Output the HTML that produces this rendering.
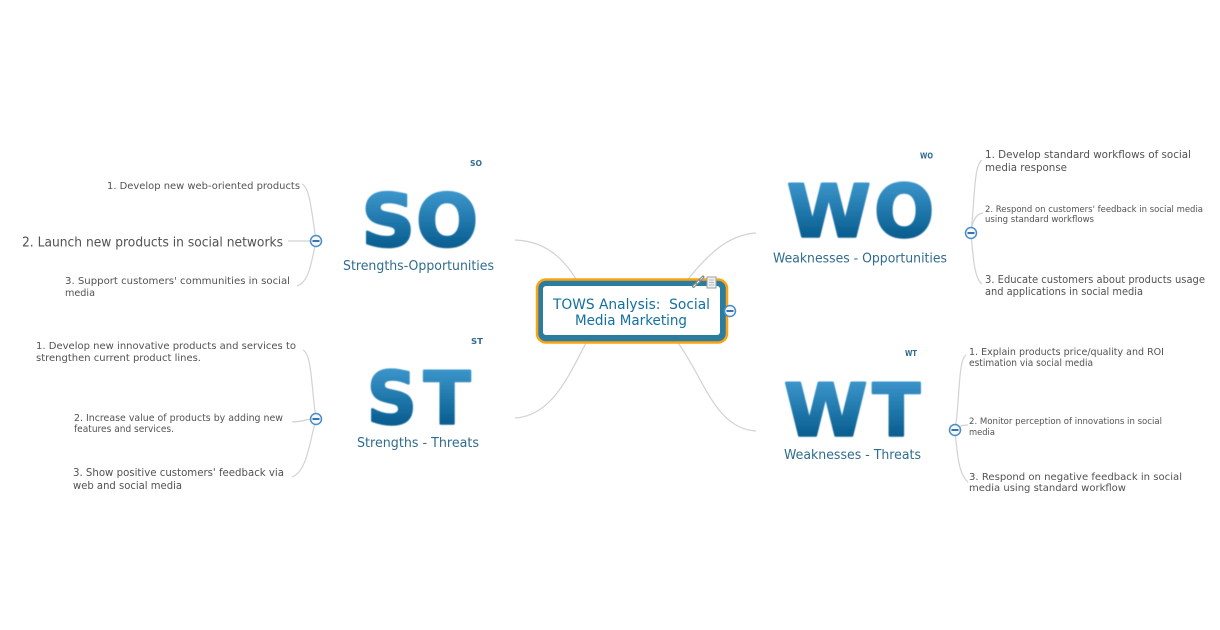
<!DOCTYPE html>
<html><head><meta charset="utf-8"><style>
html,body{margin:0;padding:0;background:#fff;width:1220px;height:630px;overflow:hidden}
svg{display:block}
text{font-family:"DejaVu Sans","Liberation Sans",sans-serif}
.t{fill:#525252}
.c{fill:none;stroke:#d2d2d2;stroke-width:1.2}
.l{fill:#2f6c8f;font-size:13px}
.s{fill:#2f6c8f;font-size:8px;font-weight:bold}
.b{font-weight:bold;font-size:72px;fill:url(#g);stroke:url(#g);stroke-width:2.500;stroke-linejoin:round}
</style></head><body>
<svg width="1220" height="630" viewBox="0 0 1220 630" xmlns="http://www.w3.org/2000/svg">
<defs>
<linearGradient id="g" x1="0" y1="0" x2="0" y2="1"><stop offset="0.15" stop-color="#3b95ca"/><stop offset="0.85" stop-color="#04598b"/></linearGradient>
<filter id="bl" x="-5%" y="-5%" width="110%" height="110%"><feGaussianBlur stdDeviation="0.4"/></filter>
</defs>

<path class="c" d="M515 240C545 241 563 258 576 279"/>
<path class="c" d="M515 418C552 416 569 375 586 343"/>
<path class="c" d="M756 233C725 235 705 259 688 279"/>
<path class="c" d="M756 431C715 429 703 376 678 343"/>

<path class="c" d="M302 184C309 187 311 205 316 241C312 258 310 282 297 286"/>
<path class="c" d="M288 241H311"/>
<path class="c" d="M303 350C312 355 311 385 316 419C310 440 307 472 292 477"/>
<path class="c" d="M292 422C300 422 305 420 311 419"/>
<path class="c" d="M982 160C974 165 975 195 971 233C973 255 974 278 982 284"/>
<path class="c" d="M983 213C975 214 972 222 971 233"/>
<path class="c" d="M966 355C958 360 960 400 955 430C957 450 958 474 968 482"/>
<path class="c" d="M968 425C961 425 958 427 955 430"/>

<text class="t" x="107" y="189" font-size="10" textLength="193" lengthAdjust="spacingAndGlyphs">1. Develop new web-oriented products</text>
<text class="t" x="22" y="246.500" font-size="13" textLength="261" lengthAdjust="spacingAndGlyphs">2. Launch new products in social networks</text>
<text class="t" x="65" y="284" font-size="10" textLength="225" lengthAdjust="spacingAndGlyphs">3. Support customers' communities in social</text>
<text class="t" x="65" y="296" font-size="10" textLength="30" lengthAdjust="spacingAndGlyphs">media</text>

<text class="t" x="36" y="349" font-size="9.500" textLength="260" lengthAdjust="spacingAndGlyphs">1. Develop new innovative products and services to</text>
<text class="t" x="36" y="361" font-size="9.500" textLength="165" lengthAdjust="spacingAndGlyphs">strengthen current product lines.</text>
<text class="t" x="74" y="421" font-size="9.500" textLength="209" lengthAdjust="spacingAndGlyphs">2. Increase value of products by adding new</text>
<text class="t" x="74" y="432" font-size="9.500" textLength="100" lengthAdjust="spacingAndGlyphs">features and services.</text>
<text class="t" x="73" y="476" font-size="10.500" textLength="211" lengthAdjust="spacingAndGlyphs">3. Show positive customers' feedback via</text>
<text class="t" x="73" y="489" font-size="10.500" textLength="109" lengthAdjust="spacingAndGlyphs">web and social media</text>

<text class="t" x="985" y="158" font-size="10.500" textLength="206" lengthAdjust="spacingAndGlyphs">1. Develop standard workflows of social</text>
<text class="t" x="985" y="171" font-size="10.500" textLength="82" lengthAdjust="spacingAndGlyphs">media response</text>
<text class="t" x="985" y="212" font-size="8.500" textLength="218" lengthAdjust="spacingAndGlyphs">2. Respond on customers' feedback in social media</text>
<text class="t" x="985" y="222" font-size="8.500" textLength="109" lengthAdjust="spacingAndGlyphs">using standard workflows</text>
<text class="t" x="985" y="283" font-size="10.500" textLength="220" lengthAdjust="spacingAndGlyphs">3. Educate customers about products usage</text>
<text class="t" x="985" y="295" font-size="10.500" textLength="158" lengthAdjust="spacingAndGlyphs">and applications in social media</text>

<text class="t" x="969" y="355" font-size="9.500" textLength="195" lengthAdjust="spacingAndGlyphs">1. Explain products price/quality and ROI</text>
<text class="t" x="969" y="366" font-size="9.500" textLength="124" lengthAdjust="spacingAndGlyphs">estimation via social media</text>
<text class="t" x="969" y="424" font-size="8.500" textLength="193" lengthAdjust="spacingAndGlyphs">2. Monitor perception of innovations in social</text>
<text class="t" x="969" y="435" font-size="8.500" textLength="26" lengthAdjust="spacingAndGlyphs">media</text>
<text class="t" x="969" y="480" font-size="10" textLength="213" lengthAdjust="spacingAndGlyphs">3. Respond on negative feedback in social</text>
<text class="t" x="969" y="491" font-size="10" textLength="157" lengthAdjust="spacingAndGlyphs">media using standard workflow</text>

<g filter="url(#bl)">
<text class="b" transform="translate(361.500 246) scale(1.03 1)">S</text>
<text class="b" transform="translate(416.200 246) scale(1.008 1)">O</text>
<text class="b" transform="translate(366.900 423.500) scale(.965 1)">S</text>
<text class="b" transform="translate(423.700 423.500) scale(.951 1)">T</text>
<text class="b" transform="translate(787 236.500) scale(1.054 1)">W</text>
<text class="b" transform="translate(874.300 236.500) scale(.976 1)">O</text>
<text class="b" transform="translate(784 435.500) scale(1.05 1)">W</text>
<text class="b" transform="translate(872.500 435.500) scale(.97 1)">T</text>
</g>

<text class="l" x="343" y="270" textLength="151" lengthAdjust="spacingAndGlyphs">Strengths-Opportunities</text>
<text class="l" x="357" y="447" textLength="122" lengthAdjust="spacingAndGlyphs">Strengths - Threats</text>
<text class="l" x="773" y="262.500" textLength="174" lengthAdjust="spacingAndGlyphs">Weaknesses - Opportunities</text>
<text class="l" x="784" y="459" textLength="137" lengthAdjust="spacingAndGlyphs">Weaknesses - Threats</text>

<text class="s" x="470" y="166" textLength="12" lengthAdjust="spacingAndGlyphs">SO</text>
<text class="s" x="471" y="344" textLength="12" lengthAdjust="spacingAndGlyphs">ST</text>
<text class="s" x="920" y="158.500" textLength="13" lengthAdjust="spacingAndGlyphs">WO</text>
<text class="s" x="905" y="356" textLength="12" lengthAdjust="spacingAndGlyphs">WT</text>

<rect x="537" y="279.500" width="190" height="63" rx="9" fill="#2a7d9f" stroke="#ffa210" stroke-width="2.500"/>
<rect x="543" y="286" width="177" height="49" rx="3" fill="#fff"/>
<text x="631.500" y="309" font-size="14" fill="#12709e" text-anchor="middle" textLength="157" lengthAdjust="spacingAndGlyphs" xml:space="preserve">TOWS Analysis:  Social</text>
<text x="631" y="325" font-size="14" fill="#12709e" text-anchor="middle" textLength="112" lengthAdjust="spacingAndGlyphs">Media Marketing</text>

<path d="M693.500 286.500L703 277" stroke="#858c90" stroke-width="3" fill="none" stroke-linecap="round"/>
<path d="M693.500 286.500L703 277" stroke="#e8eaea" stroke-width="1" fill="none" stroke-dasharray="3 2"/>
<rect x="707" y="277" width="9" height="11" fill="#eef0f0" stroke="#9aa0a3"/>
<path d="M709 280H714M709 282.500H714M709 285H714" stroke="#a5a9ab" stroke-width=".8"/>

<g fill="#f4f8fc" stroke="#4a8cc9" stroke-width="1.500">
<circle cx="316" cy="241" r="5.500"/><circle cx="316" cy="419" r="5.500"/><circle cx="971" cy="233" r="5.500"/><circle cx="955" cy="430" r="5.500"/><circle cx="730" cy="311" r="5.500"/>
</g>
<g stroke="#1f5f9e" stroke-width="1.800">
<path d="M312.500 241H319.500M312.500 419H319.500M967.500 233H974.500M951.500 430H958.500M726.500 311H733.500"/>
</g>
</svg>
</body></html>
